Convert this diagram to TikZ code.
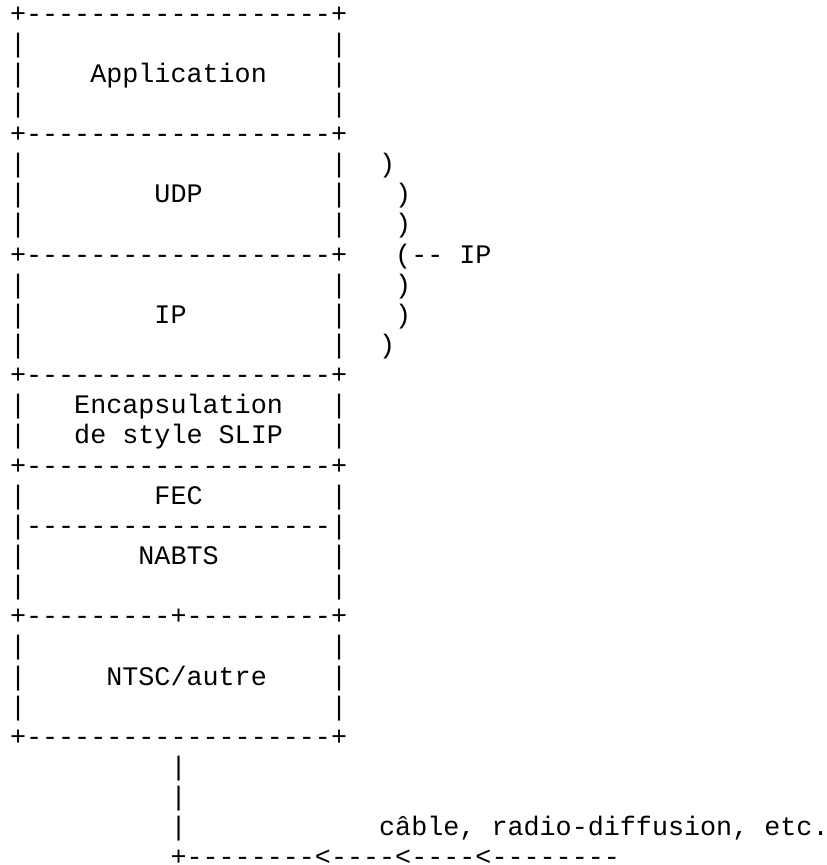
\documentclass[tikz,border=0pt]{standalone}
\usepackage{fontspec}
\setmonofont{Liberation Mono}
\tikzset{
  txt/.style={anchor=base west, inner sep=0pt, outer sep=0pt,
    font=\ttfamily\fontsize{26.75}{30}\selectfont, text=black},
}
% \hyph{n}: n separate hyphens (no dash ligatures)
\newcommand\hyph[1]{\foreach\k in {1,...,#1}{-}}
% \cell{name}{row}{column}{text}: one run of monospaced text on the character grid
\newcommand\cell[4]{\node[txt] (#1) at ({10+16.05*#3},{-(22+30.14*#2)}) {#4};}
\begin{document}
\begin{tikzpicture}[x=1pt,y=1pt]
\useasboundingbox (0,0) rectangle (827,-865);
% Application
\cell{t0}{0}{0}{+\hyph{19}+}
\cell{l1}{1}{0}{|}\cell{r1}{1}{20}{|}
\cell{l2}{2}{0}{|}\cell{app}{2}{5}{Application}\cell{r2}{2}{20}{|}
\cell{l3}{3}{0}{|}\cell{r3}{3}{20}{|}
\cell{t4}{4}{0}{+\hyph{19}+}
% UDP
\cell{l5}{5}{0}{|}\cell{r5}{5}{20}{|}\cell{p5}{5}{23}{)}
\cell{l6}{6}{0}{|}\cell{udp}{6}{9}{UDP}\cell{r6}{6}{20}{|}\cell{p6}{6}{24}{)}
\cell{l7}{7}{0}{|}\cell{r7}{7}{20}{|}\cell{p7}{7}{24}{)}
\cell{t8}{8}{0}{+\hyph{19}+}\cell{p8}{8}{24}{(\hyph{2}}\cell{iplab}{8}{28}{IP}
% IP
\cell{l9}{9}{0}{|}\cell{r9}{9}{20}{|}\cell{p9}{9}{24}{)}
\cell{l10}{10}{0}{|}\cell{ip}{10}{9}{IP}\cell{r10}{10}{20}{|}\cell{p10}{10}{24}{)}
\cell{l11}{11}{0}{|}\cell{r11}{11}{20}{|}\cell{p11}{11}{23}{)}
\cell{t12}{12}{0}{+\hyph{19}+}
% SLIP-style encapsulation
\cell{l13}{13}{0}{|}\cell{enc}{13}{4}{Encapsulation}\cell{r13}{13}{20}{|}
\cell{l14}{14}{0}{|}\cell{slip}{14}{4}{de style SLIP}\cell{r14}{14}{20}{|}
\cell{t15}{15}{0}{+\hyph{19}+}
% FEC / NABTS
\cell{l16}{16}{0}{|}\cell{fec}{16}{9}{FEC}\cell{r16}{16}{20}{|}
\cell{t17}{17}{0}{|\hyph{19}|}
\cell{l18}{18}{0}{|}\cell{nabts}{18}{8}{NABTS}\cell{r18}{18}{20}{|}
\cell{l19}{19}{0}{|}\cell{r19}{19}{20}{|}
\cell{t20}{20}{0}{+\hyph{9}+\hyph{9}+}
% NTSC
\cell{l21}{21}{0}{|}\cell{r21}{21}{20}{|}
\cell{l22}{22}{0}{|}\cell{ntsc}{22}{6}{NTSC/autre}\cell{r22}{22}{20}{|}
\cell{l23}{23}{0}{|}\cell{r23}{23}{20}{|}
\cell{t24}{24}{0}{+\hyph{19}+}
% transmission medium
\cell{v25}{25}{10}{|}
\cell{v26}{26}{10}{|}
\cell{v27}{27}{10}{|}\cell{media}{27}{23}{câble, radio-diffusion, etc.}
\cell{t28}{28}{10}{+\hyph{8}<\hyph{4}<\hyph{4}<\hyph{8}}
\end{tikzpicture}
\end{document}
